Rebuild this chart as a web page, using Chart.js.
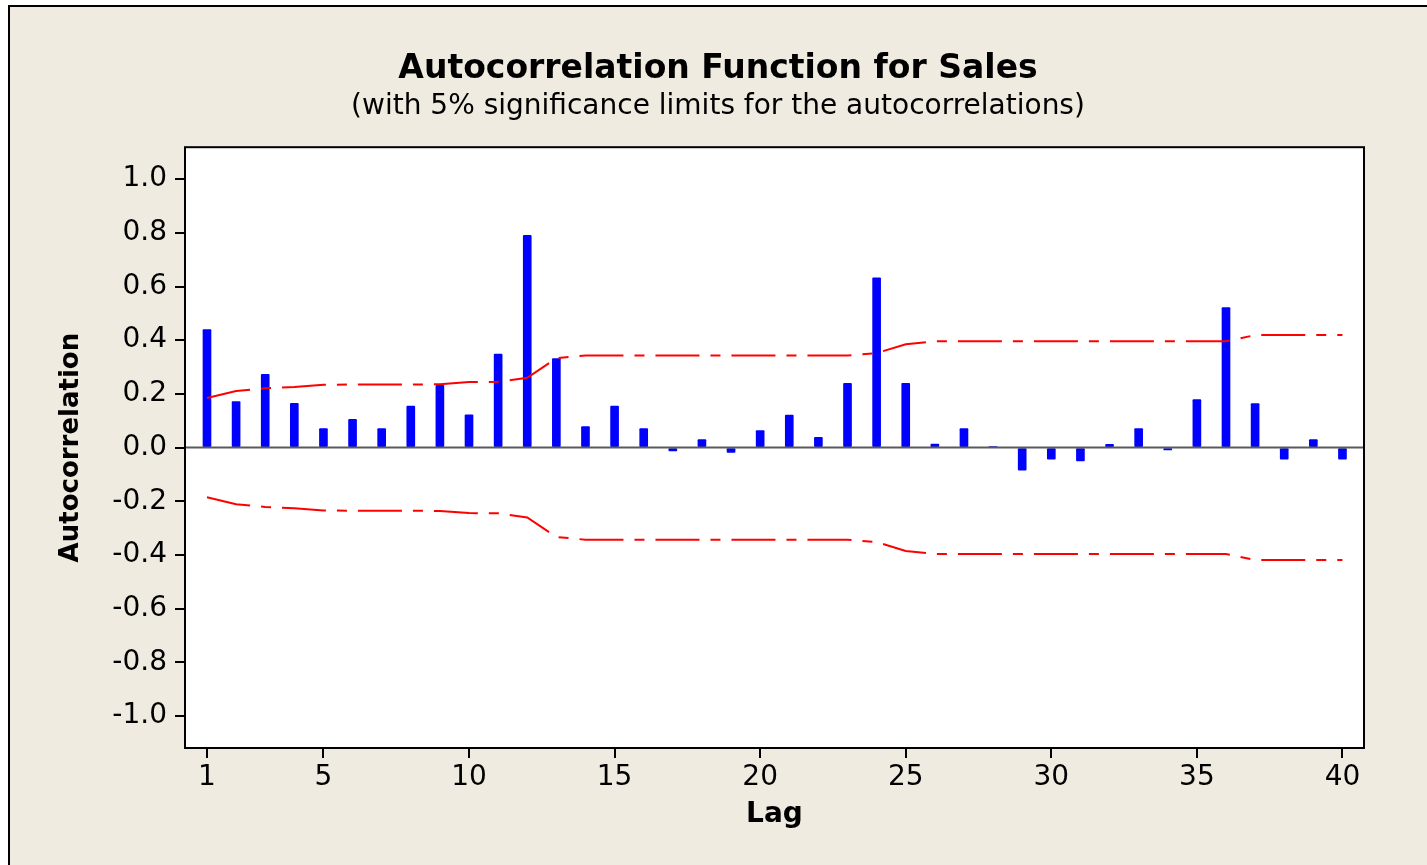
<!DOCTYPE html>
<html>
<head>
<meta charset="utf-8">
<title>Autocorrelation Function for Sales</title>
<script src="https://cdn.jsdelivr.net/npm/chart.js@4.4.1/dist/chart.umd.min.js"></script>
<style>
  html, body { margin: 0; padding: 0; background: #ffffff; overflow: hidden; }
  canvas { display: block; }
</style>
</head>
<body>
<canvas id="acf" width="1427" height="865"></canvas>
<script>
// Lags and sample autocorrelations of Sales
const lags = [1, 2, 3, 4, 5, 6, 7, 8, 9, 10,
              11, 12, 13, 14, 15, 16, 17, 18, 19, 20,
              21, 22, 23, 24, 25, 26, 27, 28, 29, 30,
              31, 32, 33, 34, 35, 36, 37, 38, 39, 40];
const acfValues = [0.440, 0.171, 0.273, 0.165, 0.071, 0.105, 0.071, 0.155, 0.232, 0.122,
                   0.348, 0.791, 0.332, 0.078, 0.155, 0.071, -0.012, 0.030, -0.018, 0.063,
                   0.121, 0.038, 0.239, 0.632, 0.239, 0.013, 0.071, 0.004, -0.084, -0.043,
                   -0.050, 0.012, 0.071, -0.009, 0.179, 0.522, 0.164, -0.043, 0.030, -0.043];
// 5% significance limit (upper; lower is its negative)
const sigLimits = [0.185, 0.211, 0.221, 0.226, 0.234, 0.235, 0.235, 0.235, 0.236, 0.244,
                   0.245, 0.260, 0.333, 0.343, 0.343, 0.343, 0.343, 0.343, 0.343, 0.343,
                   0.343, 0.343, 0.343, 0.352, 0.385, 0.396, 0.396, 0.396, 0.396, 0.396,
                   0.396, 0.396, 0.396, 0.396, 0.396, 0.396, 0.419, 0.419, 0.419, 0.419];

const xTickValues = [1, 5, 10, 15, 20, 25, 30, 35, 40];
const yTickValues = [-1.0, -0.8, -0.6, -0.4, -0.2, 0, 0.2, 0.4, 0.6, 0.8, 1.0];

const titleText = 'Autocorrelation Function for Sales';
const subtitleText = '(with 5% significance limits for the autocorrelations)';
const xTitleText = 'Lag';
const yTitleText = 'Autocorrelation';

const X_MIN = 0.245, X_MAX = 40.74;
const Y_MIN = -1.119, Y_MAX = 1.119;

const FONT = 'DejaVu Sans';
const PANEL_BG = '#EFEBE1';

// Beige panel with its frame, white plot area and plot border
const framePlugin = {
  id: 'frame',
  beforeDraw(chart) {
    const { ctx, width, height, chartArea: a } = chart;
    ctx.save();
    ctx.fillStyle = '#ffffff';
    ctx.fillRect(0, 0, width, height);
    ctx.fillStyle = PANEL_BG;
    ctx.fillRect(9, 6, width - 9, height - 6);
    ctx.strokeStyle = '#000000';
    ctx.lineWidth = 2;
    ctx.beginPath();
    ctx.moveTo(9, height);
    ctx.lineTo(9, 6);
    ctx.lineTo(width, 6);
    ctx.stroke();
    ctx.fillStyle = '#ffffff';
    ctx.fillRect(a.left, a.top, a.right - a.left, a.bottom - a.top);
    ctx.restore();
  },
  afterDraw(chart) {
    const { ctx, chartArea: a } = chart;
    ctx.save();
    ctx.strokeStyle = '#000000';
    ctx.lineWidth = 2;
    ctx.strokeRect(a.left, a.top, a.right - a.left, a.bottom - a.top);
    ctx.restore();
  }
};

const pairs = (ys) => lags.map((lag, i) => ({ x: lag, y: ys[i] }));

new Chart(document.getElementById('acf'), {
  type: 'bar',
  data: {
    datasets: [
      {
        type: 'line',
        label: 'Upper limit',
        data: pairs(sigLimits),
        borderColor: '#FF0000',
        borderWidth: 2,
        borderDash: [44, 11, 10, 11],
        pointRadius: 0,
        tension: 0,
        order: 0
      },
      {
        type: 'line',
        label: 'Lower limit',
        data: pairs(sigLimits.map(v => -v)),
        borderColor: '#FF0000',
        borderWidth: 2,
        borderDash: [44, 11, 10, 11],
        pointRadius: 0,
        tension: 0,
        order: 0
      },
      {
        type: 'line',
        label: 'Zero',
        data: [{ x: X_MIN, y: 0 }, { x: X_MAX, y: 0 }],
        borderColor: '#5a5a5a',
        borderWidth: 2,
        pointRadius: 0,
        order: 1
      },
      {
        type: 'bar',
        label: 'ACF',
        data: pairs(acfValues),
        backgroundColor: '#0000FF',
        borderWidth: 0,
        borderRadius: 1,
        borderSkipped: false,
        barThickness: 8,
        order: 2
      }
    ]
  },
  options: {
    responsive: false,
    devicePixelRatio: 1,
    animation: false,
    events: [],
    layout: { padding: { left: 9, top: 7, right: 0, bottom: 0 } },
    plugins: {
      legend: { display: false },
      tooltip: { enabled: false },
      title: {
        display: true,
        text: titleText,
        color: '#000000',
        font: { family: FONT, size: 33, weight: 'bold', lineHeight: 1.2 },
        padding: { top: 43, bottom: 0 }
      },
      subtitle: {
        display: true,
        text: subtitleText,
        color: '#000000',
        font: { family: FONT, size: 28, weight: 'normal', lineHeight: 1.2 },
        padding: { top: 0, bottom: 24 }
      }
    },
    scales: {
      x: {
        type: 'linear',
        position: 'bottom',
        min: X_MIN,
        max: X_MAX,
        offset: false,
        afterBuildTicks(scale) { scale.ticks = xTickValues.map(v => ({ value: v })); },
        afterFit(scale) { scale.height = 117; },
        ticks: {
          autoSkip: false,
          maxRotation: 0,
          padding: 3,
          color: '#000000',
          font: { family: FONT, size: 28, lineHeight: 1.2 },
          callback: (v) => String(v)
        },
        grid: { display: true, offset: false, drawOnChartArea: false, drawTicks: true, tickLength: 10, color: '#000000', lineWidth: 2 },
        border: { display: false },
        title: {
          display: true,
          text: xTitleText,
          color: '#000000',
          font: { family: FONT, size: 28, weight: 'bold', lineHeight: 1.2 },
          padding: { top: 0, bottom: 33 }
        }
      },
      y: {
        type: 'linear',
        position: 'left',
        min: Y_MIN,
        max: Y_MAX,
        afterBuildTicks(scale) { scale.ticks = yTickValues.map(v => ({ value: v })); },
        afterFit(scale) { scale.width = 176; },
        ticks: {
          autoSkip: false,
          padding: 8,
          color: '#000000',
          font: { family: FONT, size: 28, lineHeight: 1.2 },
          callback: (v) => Number(v).toFixed(1)
        },
        grid: { display: true, offset: false, drawOnChartArea: false, drawTicks: true, tickLength: 10, color: '#000000', lineWidth: 2 },
        border: { display: false },
        title: {
          display: true,
          text: yTitleText,
          color: '#000000',
          font: { family: FONT, size: 26, weight: 'bold', lineHeight: 1.2 },
          padding: { top: 47, bottom: 0 }
        }
      },
      // empty right-hand margin so the titles center on the whole panel
      yMargin: {
        type: 'linear',
        position: 'right',
        display: true,
        grid: { display: false },
        border: { display: false },
        ticks: { display: false },
        afterFit(scale) { scale.width = 63; }
      }
    }
  },
  plugins: [framePlugin]
});
</script>
</body>
</html>
